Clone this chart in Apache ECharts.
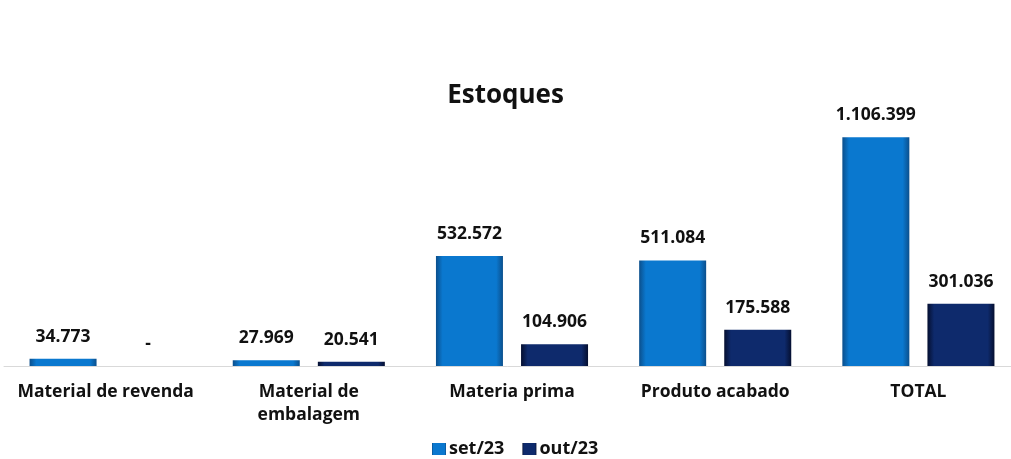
<!DOCTYPE html>
<html>
<head>
<meta charset="utf-8">
<script src="https://cdn.jsdelivr.net/npm/echarts@6/dist/echarts.min.js"></script>
<style>
html,body{margin:0;padding:0;background:#fff;}
#chart{width:1011px;height:459px;}
</style>
</head>
<body>
<div id="chart"></div>
<script>
const categories = ['Material de revenda', 'Material de\nembalagem', 'Materia prima', 'Produto acabado', 'TOTAL'];
const seriesNames = ['set/23', 'out/23'];
const setValues = [34773, 27969, 532572, 511084, 1106399];
const outValues = [0, 20541, 104906, 175588, 301036];

const FONT = 'Open Sans';
function fmt(v) {
  if (!v) return '-';
  return String(v).replace(/\B(?=(\d{3})+(?!\d))/g, '.');
}
function bevel(edge, main) {
  return {
    type: 'linear', x: 0, y: 0, x2: 1, y2: 0,
    colorStops: [
      { offset: 0, color: edge },
      { offset: 0.1, color: main },
      { offset: 0.9, color: main },
      { offset: 1, color: edge }
    ]
  };
}
const chart = echarts.init(document.getElementById('chart'));
chart.setOption({
  animation: false,
  textStyle: { fontFamily: FONT },
  title: {
    text: 'Estoques', left: 'center', top: 78,
    textStyle: { fontFamily: FONT, fontWeight: 'bold', fontSize: 26, color: '#111' }
  },
  legend: {
    top: 435, left: 427, padding: 5, icon: 'rect', itemWidth: 14, itemHeight: 12, itemGap: 18,
    textStyle: { fontFamily: FONT, fontWeight: 'bold', fontSize: 18, color: '#111', padding: [0, 0, 0, -2] },
    data: seriesNames
  },
  grid: { left: 4, width: 1016, top: 118, bottom: 93, outerBoundsMode: 'none', containLabel: false },
  xAxis: {
    type: 'category', data: categories,
    axisLine: { lineStyle: { color: '#d9d9d9', width: 1 } },
    axisTick: { show: false },
    axisLabel: {
      interval: 0, margin: 15, lineHeight: 23,
      fontFamily: FONT, fontWeight: 'bold', fontSize: 17.5, color: '#111'
    }
  },
  yAxis: {
    type: 'value', min: 0, max: 1200000, show: false,
    splitLine: { show: false }
  },
  series: [
    {
      name: seriesNames[0], type: 'bar', data: setValues,
      barWidth: 67, barGap: '27%',
      itemStyle: { color: bevel('#0b4f8c', '#0a78cf') },
      label: {
        show: true, position: 'top', distance: 13, formatter: p => fmt(p.value),
        fontFamily: FONT, fontWeight: 'bold', fontSize: 17.5, color: '#111'
      }
    },
    {
      name: seriesNames[1], type: 'bar', data: outValues,
      barWidth: 67,
      itemStyle: { color: bevel('#050f30', '#0e2a6c') },
      label: {
        show: true, position: 'top', distance: 13, formatter: p => fmt(p.value),
        fontFamily: FONT, fontWeight: 'bold', fontSize: 17.5, color: '#111'
      }
    }
  ]
});
</script>
</body>
</html>
